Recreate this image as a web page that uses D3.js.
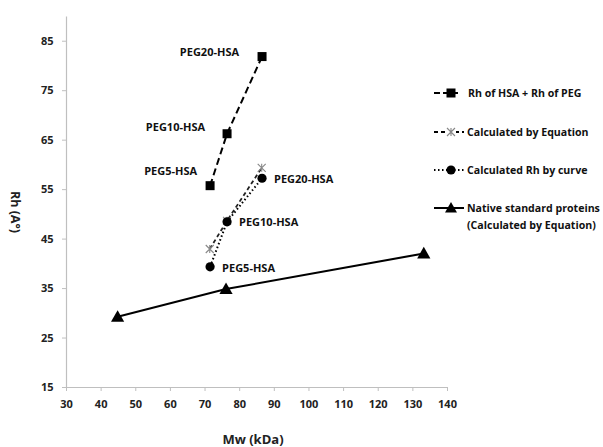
<!DOCTYPE html>
<html><head><meta charset="utf-8">
<script src="https://cdn.jsdelivr.net/npm/d3@7"></script>
<style>body{margin:0;background:#fff}svg{display:block}text{font-family:"Open Sans",sans-serif;font-weight:700}</style>
</head><body><svg id="c" width="603" height="447"></svg>
<script>
const xTicks=[30,40,50,60,70,80,90,100,110,120,130,140];
const yTicks=[15,25,35,45,55,65,75,85];
const pegLabels=["PEG5-HSA","PEG10-HSA","PEG20-HSA"];
const sumMw=[71.6,76.5,86.6], sumRh=[55.7,66.2,81.8];
const eqMw=[71.5,76.5,86.5], eqRh=[42.9,48.6,59.3];
const curveMw=[71.6,76.5,86.6], curveRh=[39.3,48.4,57.2];
const nativeMw=[44.9,76.2,133.3], nativeRh=[29.2,34.8,42.0];
const legendNames=["Rh of HSA + Rh of PEG","Calculated by Equation","Calculated Rh by curve","Native standard proteins","(Calculated by Equation)"];

const svg=d3.select("#c");
const x=d3.scaleLinear().domain([30,140]).range([66,447]);
const y=d3.scaleLinear().domain([15,90]).range([387,16]);
const axisCol="#bfbfbf";

// axes
const gx=svg.append("g").attr("transform","translate(0,387)").call(d3.axisBottom(x).tickValues(xTicks).tickSize(4).tickSizeOuter(0));
const gy=svg.append("g").attr("transform","translate(66,0)").call(d3.axisLeft(y).tickValues(yTicks).tickSize(4).tickSizeOuter(0));
[gx,gy].forEach(g=>{g.select(".domain").attr("stroke",axisCol).attr("stroke-width",1.2);g.selectAll(".tick line").attr("stroke",axisCol);g.selectAll("text").attr("font-size",11).attr("fill","#222").attr("font-family","Open Sans").attr("font-weight",700);});
gx.selectAll("text").attr("dy","1.25em");
gy.selectAll("text").attr("dx","-0.5em");

svg.append("text").attr("x",253).attr("y",444).attr("text-anchor","middle").attr("font-size",13).attr("fill","#222").text("Mw (kDa)");
svg.append("text").attr("transform","translate(11,212) rotate(90)").attr("text-anchor","middle").attr("font-size",12.5).attr("fill","#222").text("Rh (A°)");

const line=d3.line().x(d=>x(d[0])).y(d=>y(d[1]));
const zip=(a,b)=>a.map((v,i)=>[v,b[i]]);

function sq(g,cx,cy,s){g.append("rect").attr("x",cx-s/2).attr("y",cy-s/2).attr("width",s).attr("height",s).attr("fill","#000");}
function circ(g,cx,cy,r){g.append("circle").attr("cx",cx).attr("cy",cy).attr("r",r).attr("fill","#000");}
function tri(g,cx,cy,s){g.append("path").attr("d",`M${cx},${cy-s*0.6}L${cx+s*0.6},${cy+s*0.45}L${cx-s*0.6},${cy+s*0.45}Z`).attr("fill","#000");}
function star(g,cx,cy,s){const h=s/2;g.append("path").attr("d",`M${cx-h},${cy-h}L${cx+h},${cy+h}M${cx-h},${cy+h}L${cx+h},${cy-h}M${cx},${cy-h}L${cx},${cy+h}`).attr("stroke","#888").attr("stroke-width",1.1).attr("fill","none");}

// lines
svg.append("path").attr("d",line(zip(nativeMw,nativeRh))).attr("stroke","#000").attr("stroke-width",2).attr("fill","none");
svg.append("path").attr("d",line(zip(sumMw,sumRh))).attr("stroke","#000").attr("stroke-width",2).attr("stroke-dasharray","7,4").attr("fill","none");
svg.append("path").attr("d",line(zip(eqMw,eqRh))).attr("stroke","#222").attr("stroke-width",1.8).attr("stroke-dasharray","4,3").attr("fill","none");
svg.append("path").attr("d",line(zip(curveMw,curveRh))).attr("stroke","#000").attr("stroke-width",2).attr("stroke-dasharray","1.5,2.5").attr("fill","none");

// markers
nativeMw.forEach((m,i)=>tri(svg,x(m),y(nativeRh[i]),11));
sumMw.forEach((m,i)=>sq(svg,x(m),y(sumRh[i]),9));
eqMw.forEach((m,i)=>star(svg,x(m),y(eqRh[i]),8));
curveMw.forEach((m,i)=>circ(svg,x(m),y(curveRh[i]),4.6));

// labels
const fs=11;
const lOffX=[13,22,23], lOffY=[-11,-3,-1];
sumMw.forEach((m,i)=>{svg.append("text").attr("x",x(m)-lOffX[i]).attr("y",y(sumRh[i])+lOffY[i]).attr("text-anchor","end").attr("font-size",fs).attr("fill","#111").text(pegLabels[i]);});
const rOffY=[5,4,5];
curveMw.forEach((m,i)=>{svg.append("text").attr("x",x(m)+12).attr("y",y(curveRh[i])+rOffY[i]).attr("font-size",fs).attr("fill","#111").text(pegLabels[i]);});

// legend
const lg=svg.append("g");
const rows=[93,132,170,208];
const lx0=434,lx1=464,lmid=451;
lg.append("line").attr("x1",lx0).attr("x2",lx1-4).attr("y1",rows[0]).attr("y2",rows[0]).attr("stroke","#000").attr("stroke-width",2).attr("stroke-dasharray","6,3");
sq(lg,lmid,rows[0],9);
lg.append("line").attr("x1",lx0).attr("x2",lx1).attr("y1",rows[1]).attr("y2",rows[1]).attr("stroke","#000").attr("stroke-width",2).attr("stroke-dasharray","4,3");
lg.append("rect").attr("x",lmid-5).attr("y",rows[1]-5).attr("width",10).attr("height",10).attr("fill","#fff");
star(lg,lmid,rows[1],8);
lg.append("line").attr("x1",lx0).attr("x2",lx1).attr("y1",rows[2]).attr("y2",rows[2]).attr("stroke","#000").attr("stroke-width",1.8).attr("stroke-dasharray","1.5,2.5");
circ(lg,lmid,rows[2],4.6);
lg.append("line").attr("x1",lx0).attr("x2",lx1).attr("y1",rows[3]).attr("y2",rows[3]).attr("stroke","#000").attr("stroke-width",2);
tri(lg,lmid,rows[3],10);
const ty=[93,132,170,208,225];
const tx=[468,467,467,467,467];
legendNames.forEach((n,i)=>lg.append("text").attr("x",tx[i]).attr("y",ty[i]+4).attr("font-size",10.6).attr("fill","#111").text(n));
</script></body></html>
